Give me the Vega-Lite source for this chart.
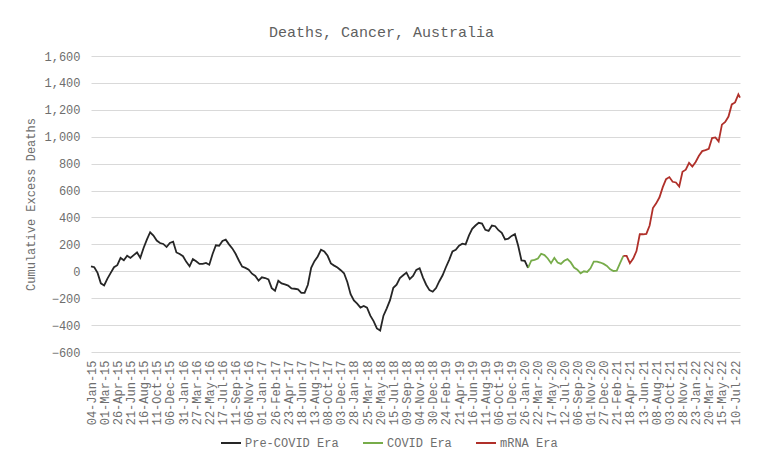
{
  "$schema": "https://vega.github.io/schema/vega-lite/v6.json",
  "width": 649,
  "height": 296,
  "autosize": {"type": "none"},
  "padding": {"left": 91, "top": 56, "right": 28, "bottom": 117},
  "background": "white",
  "title": {
    "text": "Deaths, Cancer, Australia",
    "font": "Liberation Mono",
    "fontSize": 15,
    "fontWeight": "normal",
    "color": "#5f5f5f",
    "offset": 10,
    "dx": -34
  },
  "data": {
    "values": [
      {"date": "2015-01-04", "deaths": 37, "era": "Pre-COVID Era"},
      {"date": "2015-01-18", "deaths": 30, "era": "Pre-COVID Era"},
      {"date": "2015-02-01", "deaths": -12, "era": "Pre-COVID Era"},
      {"date": "2015-02-15", "deaths": -90, "era": "Pre-COVID Era"},
      {"date": "2015-03-01", "deaths": -105, "era": "Pre-COVID Era"},
      {"date": "2015-03-15", "deaths": -55, "era": "Pre-COVID Era"},
      {"date": "2015-03-29", "deaths": -12, "era": "Pre-COVID Era"},
      {"date": "2015-04-12", "deaths": 30, "era": "Pre-COVID Era"},
      {"date": "2015-04-26", "deaths": 45, "era": "Pre-COVID Era"},
      {"date": "2015-05-10", "deaths": 99, "era": "Pre-COVID Era"},
      {"date": "2015-05-24", "deaths": 82, "era": "Pre-COVID Era"},
      {"date": "2015-06-07", "deaths": 115, "era": "Pre-COVID Era"},
      {"date": "2015-06-21", "deaths": 99, "era": "Pre-COVID Era"},
      {"date": "2015-07-05", "deaths": 120, "era": "Pre-COVID Era"},
      {"date": "2015-07-19", "deaths": 140, "era": "Pre-COVID Era"},
      {"date": "2015-08-02", "deaths": 100, "era": "Pre-COVID Era"},
      {"date": "2015-08-16", "deaths": 173, "era": "Pre-COVID Era"},
      {"date": "2015-08-30", "deaths": 235, "era": "Pre-COVID Era"},
      {"date": "2015-09-13", "deaths": 290, "era": "Pre-COVID Era"},
      {"date": "2015-09-27", "deaths": 265, "era": "Pre-COVID Era"},
      {"date": "2015-10-11", "deaths": 228, "era": "Pre-COVID Era"},
      {"date": "2015-10-25", "deaths": 210, "era": "Pre-COVID Era"},
      {"date": "2015-11-08", "deaths": 203, "era": "Pre-COVID Era"},
      {"date": "2015-11-22", "deaths": 180, "era": "Pre-COVID Era"},
      {"date": "2015-12-06", "deaths": 210, "era": "Pre-COVID Era"},
      {"date": "2015-12-20", "deaths": 220, "era": "Pre-COVID Era"},
      {"date": "2016-01-03", "deaths": 140, "era": "Pre-COVID Era"},
      {"date": "2016-01-17", "deaths": 128, "era": "Pre-COVID Era"},
      {"date": "2016-01-31", "deaths": 112, "era": "Pre-COVID Era"},
      {"date": "2016-02-14", "deaths": 70, "era": "Pre-COVID Era"},
      {"date": "2016-02-28", "deaths": 37, "era": "Pre-COVID Era"},
      {"date": "2016-03-13", "deaths": 90, "era": "Pre-COVID Era"},
      {"date": "2016-03-27", "deaths": 74, "era": "Pre-COVID Era"},
      {"date": "2016-04-10", "deaths": 55, "era": "Pre-COVID Era"},
      {"date": "2016-04-24", "deaths": 55, "era": "Pre-COVID Era"},
      {"date": "2016-05-08", "deaths": 62, "era": "Pre-COVID Era"},
      {"date": "2016-05-22", "deaths": 49, "era": "Pre-COVID Era"},
      {"date": "2016-06-05", "deaths": 128, "era": "Pre-COVID Era"},
      {"date": "2016-06-19", "deaths": 193, "era": "Pre-COVID Era"},
      {"date": "2016-07-03", "deaths": 190, "era": "Pre-COVID Era"},
      {"date": "2016-07-17", "deaths": 225, "era": "Pre-COVID Era"},
      {"date": "2016-07-31", "deaths": 235, "era": "Pre-COVID Era"},
      {"date": "2016-08-14", "deaths": 200, "era": "Pre-COVID Era"},
      {"date": "2016-08-28", "deaths": 170, "era": "Pre-COVID Era"},
      {"date": "2016-09-11", "deaths": 130, "era": "Pre-COVID Era"},
      {"date": "2016-09-25", "deaths": 80, "era": "Pre-COVID Era"},
      {"date": "2016-10-09", "deaths": 35, "era": "Pre-COVID Era"},
      {"date": "2016-10-23", "deaths": 25, "era": "Pre-COVID Era"},
      {"date": "2016-11-06", "deaths": 12, "era": "Pre-COVID Era"},
      {"date": "2016-11-20", "deaths": -18, "era": "Pre-COVID Era"},
      {"date": "2016-12-04", "deaths": -35, "era": "Pre-COVID Era"},
      {"date": "2016-12-18", "deaths": -70, "era": "Pre-COVID Era"},
      {"date": "2017-01-01", "deaths": -45, "era": "Pre-COVID Era"},
      {"date": "2017-01-15", "deaths": -50, "era": "Pre-COVID Era"},
      {"date": "2017-01-29", "deaths": -60, "era": "Pre-COVID Era"},
      {"date": "2017-02-12", "deaths": -125, "era": "Pre-COVID Era"},
      {"date": "2017-02-26", "deaths": -145, "era": "Pre-COVID Era"},
      {"date": "2017-03-12", "deaths": -70, "era": "Pre-COVID Era"},
      {"date": "2017-03-26", "deaths": -90, "era": "Pre-COVID Era"},
      {"date": "2017-04-09", "deaths": -98, "era": "Pre-COVID Era"},
      {"date": "2017-04-23", "deaths": -106, "era": "Pre-COVID Era"},
      {"date": "2017-05-07", "deaths": -128, "era": "Pre-COVID Era"},
      {"date": "2017-05-21", "deaths": -130, "era": "Pre-COVID Era"},
      {"date": "2017-06-04", "deaths": -135, "era": "Pre-COVID Era"},
      {"date": "2017-06-18", "deaths": -160, "era": "Pre-COVID Era"},
      {"date": "2017-07-02", "deaths": -160, "era": "Pre-COVID Era"},
      {"date": "2017-07-16", "deaths": -100, "era": "Pre-COVID Era"},
      {"date": "2017-07-30", "deaths": 25, "era": "Pre-COVID Era"},
      {"date": "2017-08-13", "deaths": 75, "era": "Pre-COVID Era"},
      {"date": "2017-08-27", "deaths": 110, "era": "Pre-COVID Era"},
      {"date": "2017-09-10", "deaths": 160, "era": "Pre-COVID Era"},
      {"date": "2017-09-24", "deaths": 148, "era": "Pre-COVID Era"},
      {"date": "2017-10-08", "deaths": 115, "era": "Pre-COVID Era"},
      {"date": "2017-10-22", "deaths": 58, "era": "Pre-COVID Era"},
      {"date": "2017-11-05", "deaths": 42, "era": "Pre-COVID Era"},
      {"date": "2017-11-19", "deaths": 28, "era": "Pre-COVID Era"},
      {"date": "2017-12-03", "deaths": 8, "era": "Pre-COVID Era"},
      {"date": "2017-12-17", "deaths": -15, "era": "Pre-COVID Era"},
      {"date": "2017-12-31", "deaths": -80, "era": "Pre-COVID Era"},
      {"date": "2018-01-14", "deaths": -170, "era": "Pre-COVID Era"},
      {"date": "2018-01-28", "deaths": -217, "era": "Pre-COVID Era"},
      {"date": "2018-02-11", "deaths": -240, "era": "Pre-COVID Era"},
      {"date": "2018-02-25", "deaths": -270, "era": "Pre-COVID Era"},
      {"date": "2018-03-11", "deaths": -258, "era": "Pre-COVID Era"},
      {"date": "2018-03-25", "deaths": -270, "era": "Pre-COVID Era"},
      {"date": "2018-04-08", "deaths": -330, "era": "Pre-COVID Era"},
      {"date": "2018-04-22", "deaths": -370, "era": "Pre-COVID Era"},
      {"date": "2018-05-06", "deaths": -425, "era": "Pre-COVID Era"},
      {"date": "2018-05-20", "deaths": -440, "era": "Pre-COVID Era"},
      {"date": "2018-06-03", "deaths": -330, "era": "Pre-COVID Era"},
      {"date": "2018-06-17", "deaths": -275, "era": "Pre-COVID Era"},
      {"date": "2018-07-01", "deaths": -215, "era": "Pre-COVID Era"},
      {"date": "2018-07-15", "deaths": -123, "era": "Pre-COVID Era"},
      {"date": "2018-07-29", "deaths": -100, "era": "Pre-COVID Era"},
      {"date": "2018-08-12", "deaths": -50, "era": "Pre-COVID Era"},
      {"date": "2018-08-26", "deaths": -30, "era": "Pre-COVID Era"},
      {"date": "2018-09-09", "deaths": -10, "era": "Pre-COVID Era"},
      {"date": "2018-09-23", "deaths": -58, "era": "Pre-COVID Era"},
      {"date": "2018-10-07", "deaths": -35, "era": "Pre-COVID Era"},
      {"date": "2018-10-21", "deaths": 10, "era": "Pre-COVID Era"},
      {"date": "2018-11-04", "deaths": 22, "era": "Pre-COVID Era"},
      {"date": "2018-11-18", "deaths": -45, "era": "Pre-COVID Era"},
      {"date": "2018-12-02", "deaths": -100, "era": "Pre-COVID Era"},
      {"date": "2018-12-16", "deaths": -140, "era": "Pre-COVID Era"},
      {"date": "2018-12-30", "deaths": -152, "era": "Pre-COVID Era"},
      {"date": "2019-01-13", "deaths": -125, "era": "Pre-COVID Era"},
      {"date": "2019-01-27", "deaths": -74, "era": "Pre-COVID Era"},
      {"date": "2019-02-10", "deaths": -30, "era": "Pre-COVID Era"},
      {"date": "2019-02-24", "deaths": 30, "era": "Pre-COVID Era"},
      {"date": "2019-03-10", "deaths": 85, "era": "Pre-COVID Era"},
      {"date": "2019-03-24", "deaths": 148, "era": "Pre-COVID Era"},
      {"date": "2019-04-07", "deaths": 160, "era": "Pre-COVID Era"},
      {"date": "2019-04-21", "deaths": 190, "era": "Pre-COVID Era"},
      {"date": "2019-05-05", "deaths": 205, "era": "Pre-COVID Era"},
      {"date": "2019-05-19", "deaths": 200, "era": "Pre-COVID Era"},
      {"date": "2019-06-02", "deaths": 265, "era": "Pre-COVID Era"},
      {"date": "2019-06-16", "deaths": 315, "era": "Pre-COVID Era"},
      {"date": "2019-06-30", "deaths": 340, "era": "Pre-COVID Era"},
      {"date": "2019-07-14", "deaths": 360, "era": "Pre-COVID Era"},
      {"date": "2019-07-28", "deaths": 355, "era": "Pre-COVID Era"},
      {"date": "2019-08-11", "deaths": 308, "era": "Pre-COVID Era"},
      {"date": "2019-08-25", "deaths": 300, "era": "Pre-COVID Era"},
      {"date": "2019-09-08", "deaths": 340, "era": "Pre-COVID Era"},
      {"date": "2019-09-22", "deaths": 335, "era": "Pre-COVID Era"},
      {"date": "2019-10-06", "deaths": 305, "era": "Pre-COVID Era"},
      {"date": "2019-10-20", "deaths": 285, "era": "Pre-COVID Era"},
      {"date": "2019-11-03", "deaths": 236, "era": "Pre-COVID Era"},
      {"date": "2019-11-17", "deaths": 243, "era": "Pre-COVID Era"},
      {"date": "2019-12-01", "deaths": 263, "era": "Pre-COVID Era"},
      {"date": "2019-12-15", "deaths": 276, "era": "Pre-COVID Era"},
      {"date": "2019-12-29", "deaths": 190, "era": "Pre-COVID Era"},
      {"date": "2020-01-12", "deaths": 80, "era": "Pre-COVID Era"},
      {"date": "2020-01-26", "deaths": 78, "era": "Pre-COVID Era"},
      {"date": "2020-02-09", "deaths": 25, "era": "Pre-COVID Era"},
      {"date": "2020-02-09", "deaths": 25, "era": "COVID Era"},
      {"date": "2020-02-23", "deaths": 80, "era": "COVID Era"},
      {"date": "2020-03-08", "deaths": 85, "era": "COVID Era"},
      {"date": "2020-03-22", "deaths": 95, "era": "COVID Era"},
      {"date": "2020-04-05", "deaths": 130, "era": "COVID Era"},
      {"date": "2020-04-19", "deaths": 120, "era": "COVID Era"},
      {"date": "2020-05-03", "deaths": 95, "era": "COVID Era"},
      {"date": "2020-05-17", "deaths": 60, "era": "COVID Era"},
      {"date": "2020-05-31", "deaths": 100, "era": "COVID Era"},
      {"date": "2020-06-14", "deaths": 65, "era": "COVID Era"},
      {"date": "2020-06-28", "deaths": 55, "era": "COVID Era"},
      {"date": "2020-07-12", "deaths": 78, "era": "COVID Era"},
      {"date": "2020-07-26", "deaths": 90, "era": "COVID Era"},
      {"date": "2020-08-09", "deaths": 66, "era": "COVID Era"},
      {"date": "2020-08-23", "deaths": 28, "era": "COVID Era"},
      {"date": "2020-09-06", "deaths": 12, "era": "COVID Era"},
      {"date": "2020-09-20", "deaths": -15, "era": "COVID Era"},
      {"date": "2020-10-04", "deaths": 0, "era": "COVID Era"},
      {"date": "2020-10-18", "deaths": -5, "era": "COVID Era"},
      {"date": "2020-11-01", "deaths": 22, "era": "COVID Era"},
      {"date": "2020-11-15", "deaths": 72, "era": "COVID Era"},
      {"date": "2020-11-29", "deaths": 72, "era": "COVID Era"},
      {"date": "2020-12-13", "deaths": 65, "era": "COVID Era"},
      {"date": "2020-12-27", "deaths": 55, "era": "COVID Era"},
      {"date": "2021-01-10", "deaths": 40, "era": "COVID Era"},
      {"date": "2021-01-24", "deaths": 15, "era": "COVID Era"},
      {"date": "2021-02-07", "deaths": 2, "era": "COVID Era"},
      {"date": "2021-02-21", "deaths": 5, "era": "COVID Era"},
      {"date": "2021-03-07", "deaths": 60, "era": "COVID Era"},
      {"date": "2021-03-21", "deaths": 115, "era": "COVID Era"},
      {"date": "2021-03-21", "deaths": 115, "era": "mRNA Era"},
      {"date": "2021-04-04", "deaths": 115, "era": "mRNA Era"},
      {"date": "2021-04-18", "deaths": 60, "era": "mRNA Era"},
      {"date": "2021-05-02", "deaths": 95, "era": "mRNA Era"},
      {"date": "2021-05-16", "deaths": 150, "era": "mRNA Era"},
      {"date": "2021-05-30", "deaths": 275, "era": "mRNA Era"},
      {"date": "2021-06-13", "deaths": 275, "era": "mRNA Era"},
      {"date": "2021-06-27", "deaths": 278, "era": "mRNA Era"},
      {"date": "2021-07-11", "deaths": 340, "era": "mRNA Era"},
      {"date": "2021-07-25", "deaths": 470, "era": "mRNA Era"},
      {"date": "2021-08-08", "deaths": 505, "era": "mRNA Era"},
      {"date": "2021-08-22", "deaths": 550, "era": "mRNA Era"},
      {"date": "2021-09-05", "deaths": 625, "era": "mRNA Era"},
      {"date": "2021-09-19", "deaths": 685, "era": "mRNA Era"},
      {"date": "2021-10-03", "deaths": 700, "era": "mRNA Era"},
      {"date": "2021-10-17", "deaths": 665, "era": "mRNA Era"},
      {"date": "2021-10-31", "deaths": 660, "era": "mRNA Era"},
      {"date": "2021-11-14", "deaths": 630, "era": "mRNA Era"},
      {"date": "2021-11-28", "deaths": 740, "era": "mRNA Era"},
      {"date": "2021-12-12", "deaths": 755, "era": "mRNA Era"},
      {"date": "2021-12-26", "deaths": 805, "era": "mRNA Era"},
      {"date": "2022-01-09", "deaths": 778, "era": "mRNA Era"},
      {"date": "2022-01-23", "deaths": 812, "era": "mRNA Era"},
      {"date": "2022-02-06", "deaths": 858, "era": "mRNA Era"},
      {"date": "2022-02-20", "deaths": 893, "era": "mRNA Era"},
      {"date": "2022-03-06", "deaths": 900, "era": "mRNA Era"},
      {"date": "2022-03-20", "deaths": 910, "era": "mRNA Era"},
      {"date": "2022-04-03", "deaths": 990, "era": "mRNA Era"},
      {"date": "2022-04-17", "deaths": 995, "era": "mRNA Era"},
      {"date": "2022-05-01", "deaths": 965, "era": "mRNA Era"},
      {"date": "2022-05-15", "deaths": 1090, "era": "mRNA Era"},
      {"date": "2022-05-29", "deaths": 1110, "era": "mRNA Era"},
      {"date": "2022-06-12", "deaths": 1150, "era": "mRNA Era"},
      {"date": "2022-06-26", "deaths": 1240, "era": "mRNA Era"},
      {"date": "2022-07-10", "deaths": 1255, "era": "mRNA Era"},
      {"date": "2022-07-24", "deaths": 1315, "era": "mRNA Era"},
      {"date": "2022-07-31", "deaths": 1290, "era": "mRNA Era"}
    ]
  },
  "mark": {"type": "line", "strokeWidth": 1.8},
  "encoding": {
    "x": {
      "field": "date",
      "type": "temporal",
      "title": null,
      "scale": {
        "type": "utc",
        "domain": [
          {"year": 2015, "month": 1, "date": 4, "utc": true},
          {"year": 2022, "month": 7, "date": 31, "utc": true}
        ]
      },
      "axis": {
        "format": "%d-%b-%y",
        "labelAngle": -90,
        "labelPadding": 8,
        "labelOverlap": false,
        "labelFlush": false,
        "labelBound": false,
        "ticks": false,
        "domain": false,
        "grid": false,
        "values": [
          {"year": 2015, "month": 1, "date": 4, "utc": true},
          {"year": 2015, "month": 3, "date": 1, "utc": true},
          {"year": 2015, "month": 4, "date": 26, "utc": true},
          {"year": 2015, "month": 6, "date": 21, "utc": true},
          {"year": 2015, "month": 8, "date": 16, "utc": true},
          {"year": 2015, "month": 10, "date": 11, "utc": true},
          {"year": 2015, "month": 12, "date": 6, "utc": true},
          {"year": 2016, "month": 1, "date": 31, "utc": true},
          {"year": 2016, "month": 3, "date": 27, "utc": true},
          {"year": 2016, "month": 5, "date": 22, "utc": true},
          {"year": 2016, "month": 7, "date": 17, "utc": true},
          {"year": 2016, "month": 9, "date": 11, "utc": true},
          {"year": 2016, "month": 11, "date": 6, "utc": true},
          {"year": 2017, "month": 1, "date": 1, "utc": true},
          {"year": 2017, "month": 2, "date": 26, "utc": true},
          {"year": 2017, "month": 4, "date": 23, "utc": true},
          {"year": 2017, "month": 6, "date": 18, "utc": true},
          {"year": 2017, "month": 8, "date": 13, "utc": true},
          {"year": 2017, "month": 10, "date": 8, "utc": true},
          {"year": 2017, "month": 12, "date": 3, "utc": true},
          {"year": 2018, "month": 1, "date": 28, "utc": true},
          {"year": 2018, "month": 3, "date": 25, "utc": true},
          {"year": 2018, "month": 5, "date": 20, "utc": true},
          {"year": 2018, "month": 7, "date": 15, "utc": true},
          {"year": 2018, "month": 9, "date": 9, "utc": true},
          {"year": 2018, "month": 11, "date": 4, "utc": true},
          {"year": 2018, "month": 12, "date": 30, "utc": true},
          {"year": 2019, "month": 2, "date": 24, "utc": true},
          {"year": 2019, "month": 4, "date": 21, "utc": true},
          {"year": 2019, "month": 6, "date": 16, "utc": true},
          {"year": 2019, "month": 8, "date": 11, "utc": true},
          {"year": 2019, "month": 10, "date": 6, "utc": true},
          {"year": 2019, "month": 12, "date": 1, "utc": true},
          {"year": 2020, "month": 1, "date": 26, "utc": true},
          {"year": 2020, "month": 3, "date": 22, "utc": true},
          {"year": 2020, "month": 5, "date": 17, "utc": true},
          {"year": 2020, "month": 7, "date": 12, "utc": true},
          {"year": 2020, "month": 9, "date": 6, "utc": true},
          {"year": 2020, "month": 11, "date": 1, "utc": true},
          {"year": 2020, "month": 12, "date": 27, "utc": true},
          {"year": 2021, "month": 2, "date": 21, "utc": true},
          {"year": 2021, "month": 4, "date": 18, "utc": true},
          {"year": 2021, "month": 6, "date": 13, "utc": true},
          {"year": 2021, "month": 8, "date": 8, "utc": true},
          {"year": 2021, "month": 10, "date": 3, "utc": true},
          {"year": 2021, "month": 11, "date": 28, "utc": true},
          {"year": 2022, "month": 1, "date": 23, "utc": true},
          {"year": 2022, "month": 3, "date": 20, "utc": true},
          {"year": 2022, "month": 5, "date": 15, "utc": true},
          {"year": 2022, "month": 7, "date": 10, "utc": true}
        ]
      }
    },
    "y": {
      "field": "deaths",
      "type": "quantitative",
      "title": "Cumulative Excess Deaths",
      "scale": {"domain": [-600, 1600], "nice": false, "zero": false},
      "axis": {
        "values": [-600, -400, -200, 0, 200, 400, 600, 800, 1000, 1200, 1400, 1600],
        "format": ",d",
        "ticks": false,
        "domain": false,
        "labelPadding": 11,
        "titlePadding": 6
      }
    },
    "color": {
      "field": "era",
      "type": "nominal",
      "scale": {
        "domain": ["Pre-COVID Era", "COVID Era", "mRNA Era"],
        "range": ["#262626", "#77AC4A", "#B0302A"]
      },
      "legend": {
        "title": null,
        "orient": "none",
        "direction": "horizontal",
        "legendX": 129,
        "legendY": 376,
        "symbolType": "stroke",
        "symbolSize": 400,
        "symbolStrokeWidth": 2,
        "labelOffset": 3,
        "columnPadding": 20
      }
    }
  },
  "config": {
    "font": "Liberation Mono",
    "view": {"stroke": null},
    "axis": {
      "labelFont": "Liberation Mono",
      "labelFontSize": 12,
      "labelColor": "#6e6e6e",
      "titleFont": "Liberation Mono",
      "titleFontSize": 12,
      "titleFontWeight": "normal",
      "titleColor": "#6e6e6e",
      "gridColor": "#d9d9d9",
      "gridWidth": 1
    },
    "legend": {
      "labelFont": "Liberation Mono",
      "labelFontSize": 12,
      "labelColor": "#6e6e6e"
    }
  }
}
